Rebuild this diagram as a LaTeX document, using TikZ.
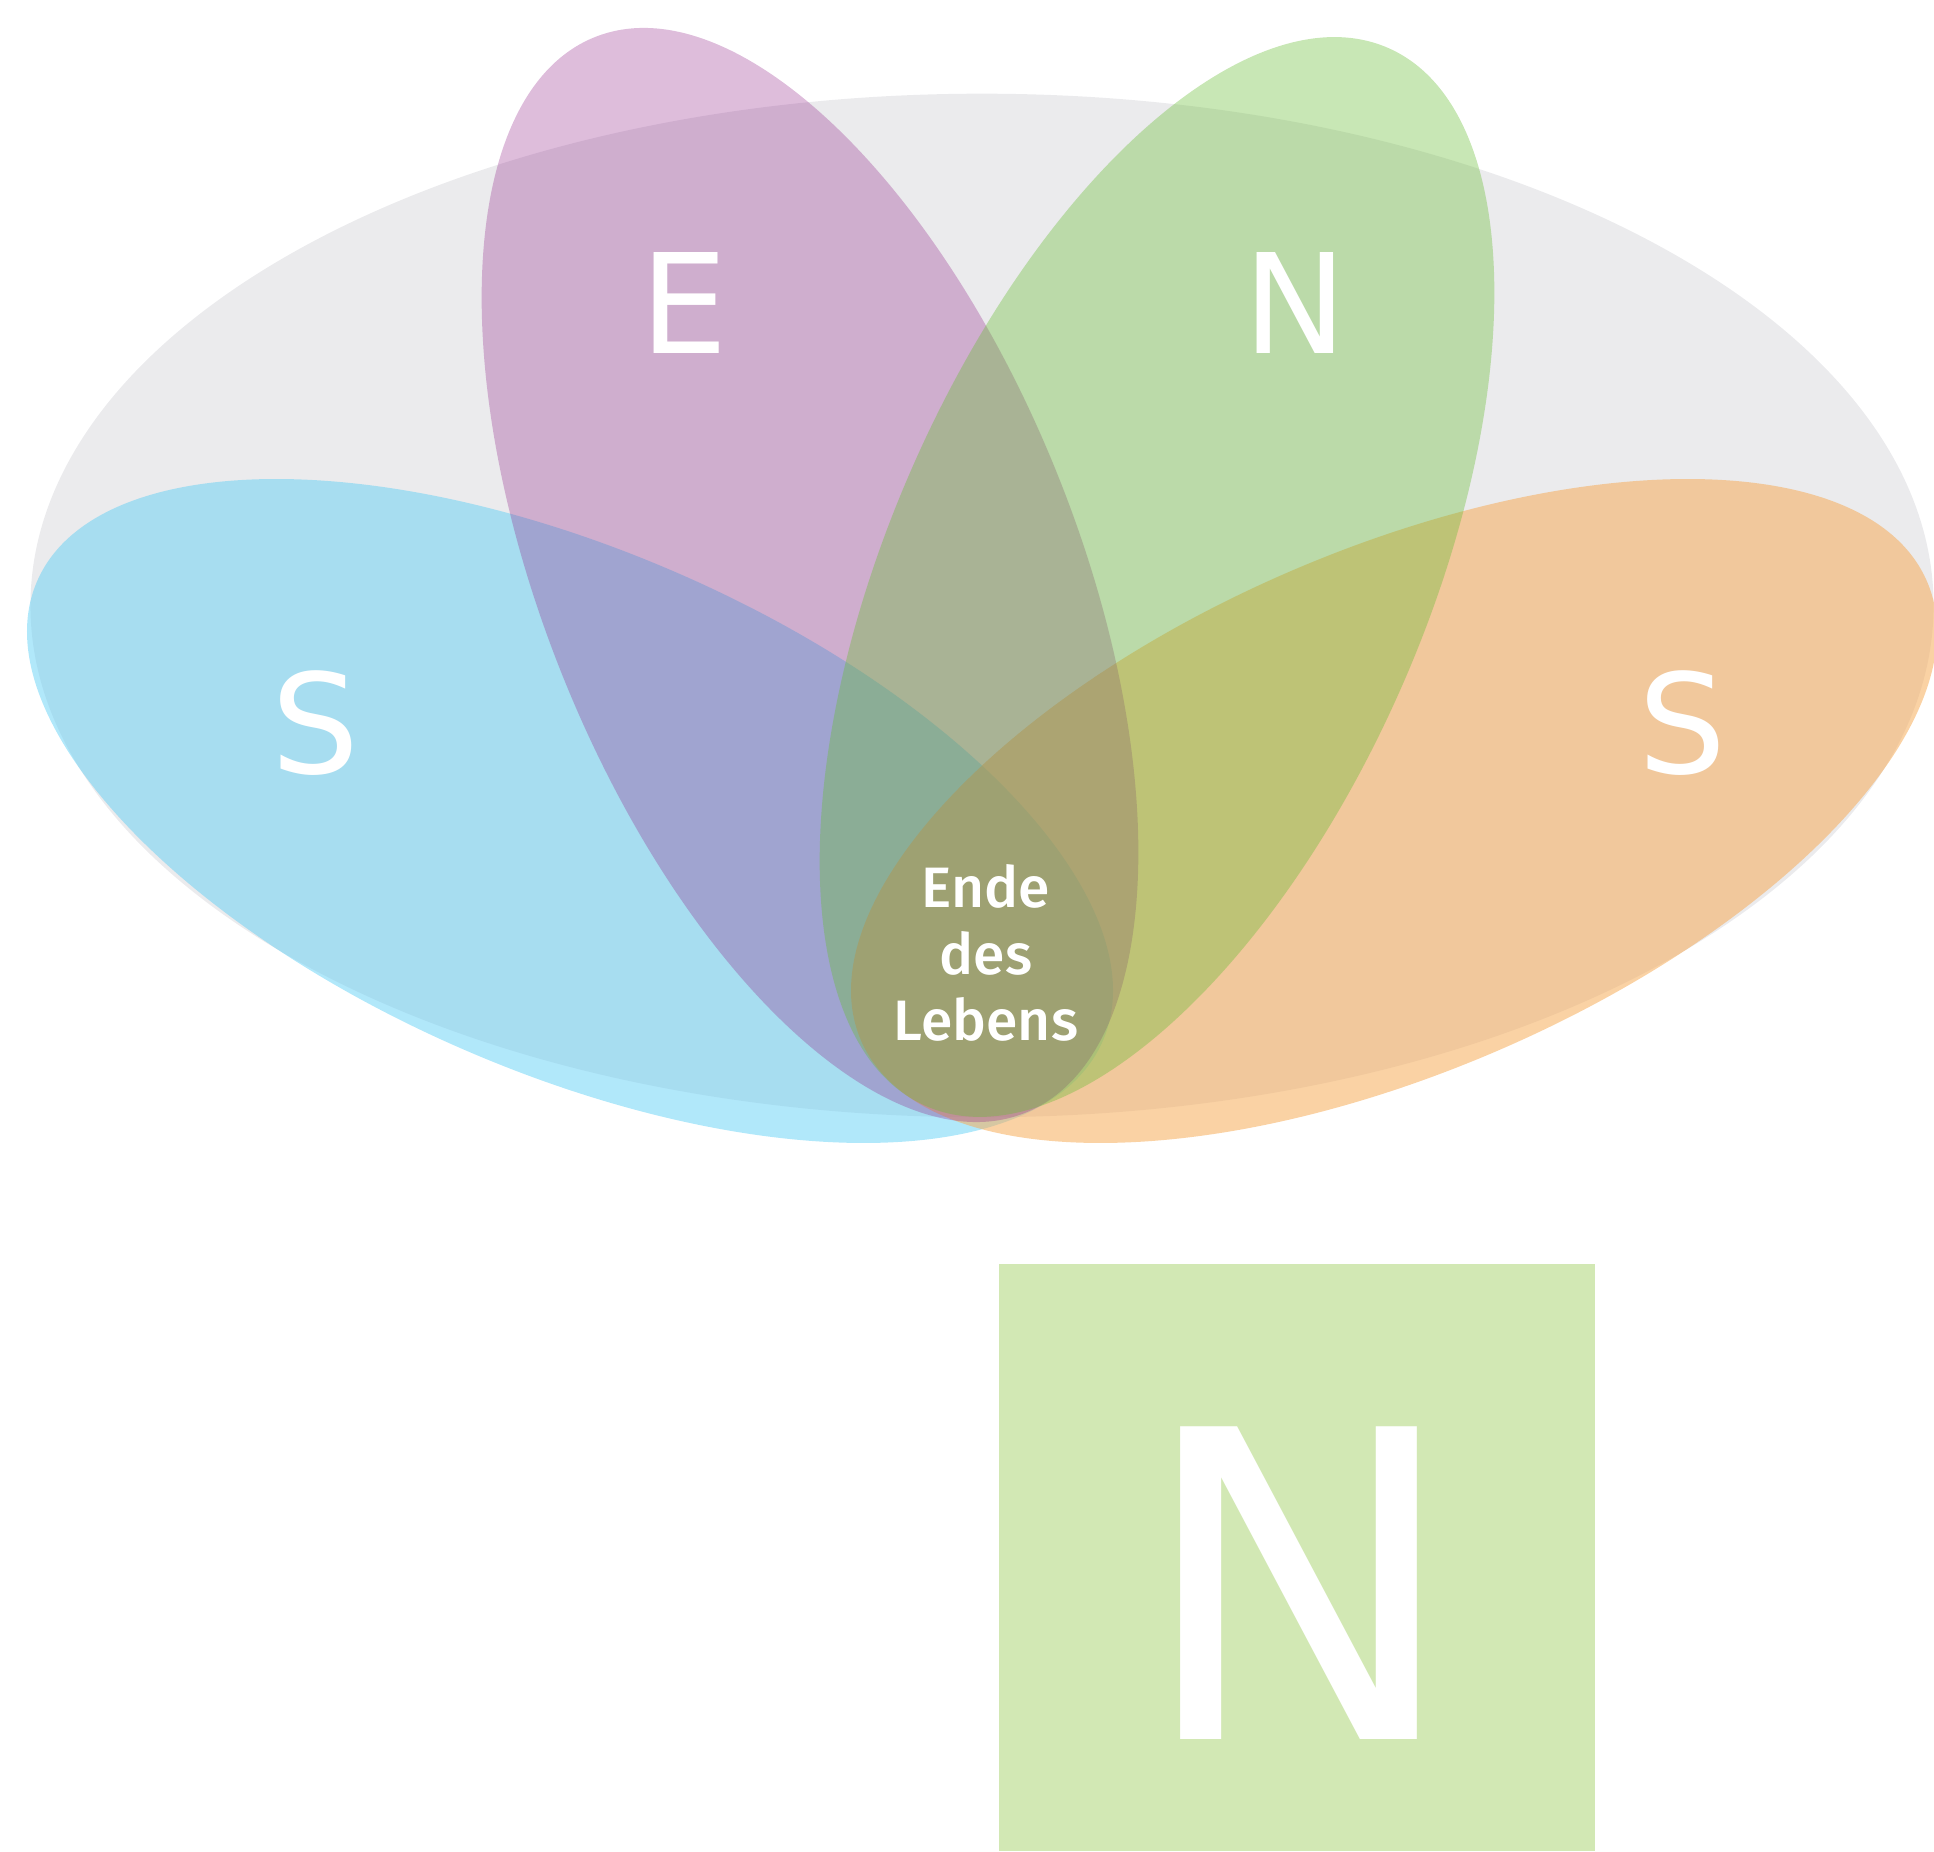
\documentclass[tikz,border=0pt]{standalone}
\usepackage{fontspec}
\setmainfont{DejaVu Sans}
\newfontfamily\smallfont{Fira Sans Medium}
\definecolor{grayell}{RGB}{235,235,237}
\definecolor{cyanell}{RGB}{93,206,245}
\definecolor{orangeell}{RGB}{246,173,90}
\definecolor{purpleell}{RGB}{145,35,137}
\definecolor{greenell}{RGB}{105,189,53}
\definecolor{boxgreen}{RGB}{210,232,180}
\tikzset{
  bigletter/.style={text=white, inner sep=0pt, font=\fontsize{39.4pt}{46pt}\selectfont},
  smalltext/.style={text=white, inner sep=0pt, align=center, font=\smallfont\fontsize{16.2pt}{18.9pt}\selectfont},
  boxletter/.style={text=white, inner sep=0pt, font=\fontsize{122pt}{140pt}\selectfont}
}
\begin{document}
\begin{tikzpicture}[x=0.01cm,y=0.01cm]
\useasboundingbox (0,0) rectangle (1934,1851);
% grey background ellipse
\fill[grayell] (982,1245.5) ellipse [x radius=9.51cm, y radius=5.115cm];
% petals
\fill[cyanell, opacity=0.48, rotate around={-23.3:(570,1040)}] (570,1040) ellipse [x radius=5.8cm, y radius=2.61cm];
\fill[orangeell, opacity=0.55, rotate around={23.3:(1394,1040)}] (1394,1040) ellipse [x radius=5.8cm, y radius=2.61cm];
\fill[purpleell, opacity=0.30, rotate around={21.8:(810,1276)}] (810,1276) ellipse [x radius=2.67cm, y radius=5.79cm];
\fill[greenell, opacity=0.37, rotate around={-23.6:(1157,1274)}] (1157,1274) ellipse [x radius=2.68cm, y radius=5.77cm];
% letters
\node[bigletter] (E) at (684,1548) {E};
\node[bigletter] (N1) at (1295,1548) {N};
\node[bigletter] (S1) at (315,1128) {S};
\node[bigletter] (S2) at (1682,1128) {S};
\node[smalltext] (ende) at (986,898) {Ende\\des\\Lebens};
% bottom box
\fill[boxgreen] (999,0) rectangle (1595,587);
\node[boxletter] (N2) at (1299,268) {N};
\end{tikzpicture}
\end{document}
